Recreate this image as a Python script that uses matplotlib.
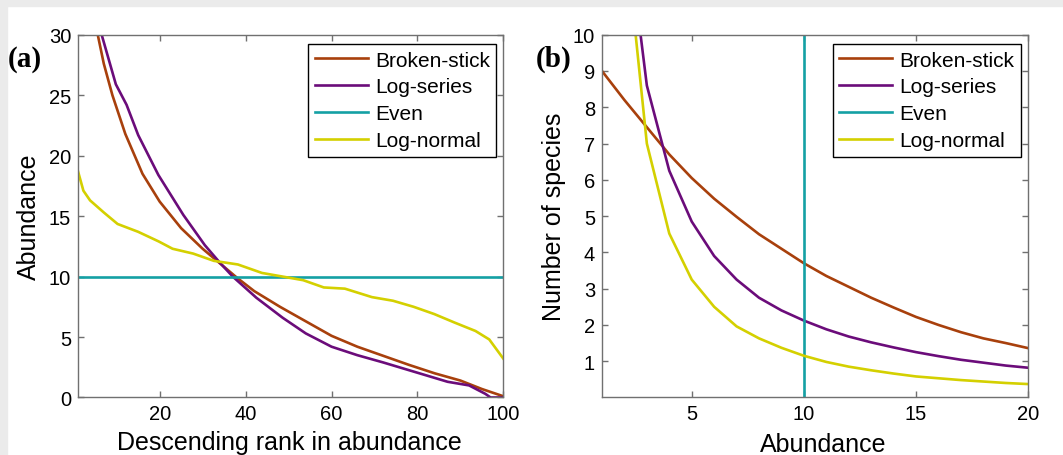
import matplotlib
matplotlib.use("Agg")
import matplotlib.pyplot as plt
from matplotlib.patches import Rectangle

plt.rcParams['font.family'] = ['Liberation Sans', 'DejaVu Sans']

# ---- panel (a): rank-abundance curves ----
bs_rank = [5, 7, 9, 12, 16, 20, 25, 30, 34, 38, 42, 48, 55, 60, 66, 72, 78, 84, 90, 95, 100]
bs_abund = [31.0, 27.6, 25.0, 21.8, 18.5, 16.2, 14.0, 12.3, 11.1, 9.9, 8.8, 7.5, 6.1, 5.1,
            4.2, 3.45, 2.7, 2.0, 1.4, 0.7, 0.1]

ls_rank = [6, 6.5, 9.8, 12.3, 15, 19.7, 25.5, 30.5, 34, 37, 42.5, 48.6, 54, 60, 66, 72,
           79.5, 87, 92, 95.8, 97, 100]
ls_abund = [31.0, 30.0, 25.9, 24.2, 21.7, 18.4, 15.1, 12.6, 11.15, 10.0, 8.25, 6.6, 5.3,
            4.2, 3.5, 2.9, 2.1, 1.3, 1.0, 0.3, 0.0, 0.0]

even_rank = [1, 100]
even_abund = [10, 10]

ln_rank = [1, 2.25, 3.8, 7, 10.2, 15, 19.8, 23, 27.8, 32.6, 38.2, 43.8, 48.6, 53.4, 58.2,
           63.1, 69.4, 74.3, 79.1, 83.9, 88.6, 93.5, 96.7, 100]
ln_abund = [18.7, 17.1, 16.3, 15.3, 14.35, 13.7, 12.9, 12.3, 11.9, 11.3, 11.0, 10.3, 10.0,
            9.7, 9.1, 9.0, 8.3, 8.0, 7.5, 6.9, 6.2, 5.5, 4.8, 3.2]

# ---- panel (b): species-abundance distributions ----
n_abund = list(range(1, 21))
bs_species = [9.0, 8.2, 7.45, 6.7, 6.05, 5.48, 4.98, 4.5, 4.1, 3.7, 3.35, 3.05, 2.75, 2.48,
              2.22, 2.0, 1.8, 1.63, 1.5, 1.36]
ls_n = list(range(2, 21))
ls_species = [13.6, 8.6, 6.25, 4.85, 3.9, 3.25, 2.75, 2.4, 2.12, 1.88, 1.68, 1.52, 1.38,
              1.25, 1.14, 1.04, 0.96, 0.88, 0.82]
even_n = [10, 10]
even_species = [0, 10]
ln_n = list(range(2, 21))
ln_species = [13.0, 7.0, 4.52, 3.25, 2.5, 1.96, 1.63, 1.37, 1.15, 0.98, 0.85, 0.75, 0.66,
              0.58, 0.53, 0.48, 0.44, 0.4, 0.37]

labels = ["Broken-stick", "Log-series", "Even", "Log-normal"]
colors = ["#a8400c", "#6b0c7a", "#14a0a4", "#d4d000"]
lw = 1.9

fig = plt.figure(figsize=(10.63, 4.56), dpi=100)
fig.patches.append(Rectangle((0, 1 - 7 / 456), 1, 7 / 456, transform=fig.transFigure,
                             color="#ebebeb", zorder=0))
fig.patches.append(Rectangle((0, 0), 7 / 1063, 1, transform=fig.transFigure,
                             color="#ebebeb", zorder=0))

ax1 = fig.add_axes([0.0734, 0.1261, 0.4002, 0.7956])
ax2 = fig.add_axes([0.5663, 0.1261, 0.4010, 0.7956])

for x, y, c, lab in zip([bs_rank, ls_rank, even_rank, ln_rank],
                        [bs_abund, ls_abund, even_abund, ln_abund], colors, labels):
    ax1.plot(x, y, color=c, lw=lw, label=lab)
ax1.set_xlim(1, 100)
ax1.set_ylim(0, 30)
ax1.set_xticks([20, 40, 60, 80, 100])
ax1.set_yticks([0, 5, 10, 15, 20, 25, 30])
ax1.set_xlabel("Descending rank in abundance", fontsize=18)
ax1.set_ylabel("Abundance", fontsize=18)
ax1.xaxis.label.set_va("baseline")
ax1.xaxis.set_label_coords(0.497, -0.142)
ax1.yaxis.label.set_va("center")
ax1.yaxis.set_label_coords(-0.1156, 0.5)

for x, y, c, lab in zip([n_abund, ls_n, even_n, ln_n],
                        [bs_species, ls_species, even_species, ln_species], colors, labels):
    ax2.plot(x, y, color=c, lw=lw, label=lab)
ax2.set_xlim(1, 20)
ax2.set_ylim(0, 10)
ax2.set_xticks([5, 10, 15, 20])
ax2.set_yticks(range(1, 11))
ax2.set_xlabel("Abundance", fontsize=18)
ax2.set_ylabel("Number of species", fontsize=18)
ax2.xaxis.label.set_va("baseline")
ax2.xaxis.set_label_coords(0.519, -0.147)
ax2.yaxis.label.set_va("center")
ax2.yaxis.set_label_coords(-0.113, 0.5)

for ax in (ax1, ax2):
    for s in ax.spines.values():
        s.set_color("#707070")
        s.set_linewidth(1.0)
    ax.tick_params(direction="in", top=True, right=True, length=4, width=1.0,
                   color="#707070", labelsize=14.5, pad=5)
    leg = ax.legend(loc="upper right", bbox_to_anchor=(0.983, 0.9735), borderaxespad=0,
                    fontsize=15, fancybox=False, framealpha=1, edgecolor="black",
                    handlelength=2.55, handletextpad=0.35, labelspacing=0.38, borderpad=0.3)
    leg.get_frame().set_linewidth(1.0)

fig.text(7.6 / 1063, 1 - 59.2 / 456, "(a)", ha="left", va="center", fontsize=21,
         fontweight="bold", family="Liberation Serif")
fig.text(536 / 1063, 1 - 59.2 / 456, "(b)", ha="left", va="center", fontsize=21,
         fontweight="bold", family="Liberation Serif")

fig.savefig("out.png", dpi=100)
